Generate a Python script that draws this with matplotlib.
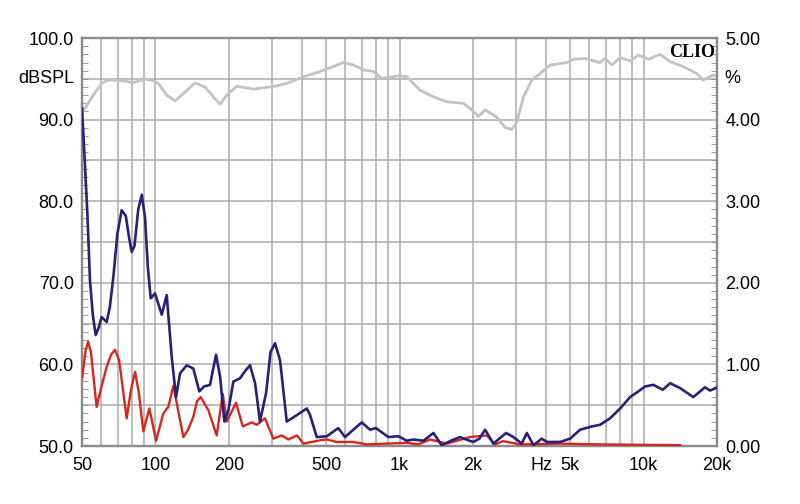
import numpy as np
import matplotlib
matplotlib.use('Agg')
import matplotlib.pyplot as plt
from matplotlib.ticker import FixedLocator, MultipleLocator, NullFormatter

plt.rcParams['font.family'] = ['Liberation Sans', 'DejaVu Sans']

# SPL response (left axis, dB)
spl_f = [50, 55.6, 60.2, 64.1, 71.6, 81.1, 90.6, 96.5, 102.7, 111.2, 120.3, 130.1, 145.3, 159.6,
         172.6, 184.0, 195.9, 215.3, 251.8, 304, 345, 404, 472, 536, 589, 647, 711, 781, 845, 929,
         1005, 1071, 1214, 1377, 1563, 1828, 1977, 2104, 2242, 2505, 2709, 2886, 3025, 3220, 3484,
         3769, 4141, 4849, 5162, 5760, 6635, 6955, 7413, 8015, 8807, 9524, 10473, 11695, 12852,
         14560, 16516, 17581, 19320, 20000]
spl_db = [90.8, 93.0, 94.45, 94.85, 94.8, 94.55, 94.95, 94.85, 94.45, 93.0, 92.3, 93.2, 94.5, 94.0,
          92.8, 91.9, 93.0, 94.1, 93.75, 94.05, 94.45, 95.25, 95.9, 96.5, 97.0, 96.7, 96.1, 95.9,
          95.05, 95.25, 95.4, 95.25, 93.6, 92.8, 92.2, 92.0, 91.2, 90.4, 91.2, 90.3, 89.05, 88.8,
          89.7, 92.8, 94.85, 95.65, 96.7, 97.0, 97.4, 97.5, 97.0, 97.5, 96.7, 97.6, 97.2, 97.9,
          97.4, 98.0, 97.1, 96.5, 95.65, 94.85, 95.5, 95.25]

# distortion k2 (right axis, %)
k2_f = [50, 51.3, 52.6, 53.9, 55.4, 56.9, 58.5, 60.2, 63.1, 65.0, 67.2, 69.8, 72.7, 75.6, 78.0, 79.9,
        82.0, 85.0, 87.9, 90.6, 93.0, 95.6, 99.6, 106.1, 111.2, 116.6,
        121.4, 126.1, 134.3, 142.9, 151.2, 158.1, 167.3, 172.5, 177.1, 184.0, 191.6, 199, 208.5, 222,
        233, 244, 256, 268, 284, 296, 309, 324, 345, 380, 417, 430, 458, 504, 561, 598, 700, 757, 801,
        900, 989, 1071, 1139, 1253, 1377, 1489, 1637, 1770, 1914, 2008, 2124, 2242, 2424, 2734, 2929,
        3170, 3325, 3541, 3826, 4018, 4548, 5000, 5494, 6136, 6635, 7290, 8015, 8807, 9524, 10140,
        10970, 11990, 12852, 14120, 15990, 17850, 18730, 20000]
k2_pct = [4.14, 3.5, 2.85, 2.03, 1.6, 1.36, 1.45, 1.58, 1.52, 1.7, 2.07, 2.6, 2.89, 2.82, 2.55, 2.38,
          2.45, 2.9, 3.08, 2.8, 2.2, 1.81, 1.87, 1.61, 1.85, 1.09,
          0.60, 0.89, 0.99, 0.95, 0.67, 0.73, 0.75, 0.95, 1.12, 0.85, 0.30, 0.44, 0.79, 0.83,
          0.92, 0.99, 0.77, 0.30, 0.65, 1.15, 1.26, 1.05, 0.30, 0.38, 0.46, 0.38, 0.11, 0.12, 0.22,
          0.11, 0.29, 0.20, 0.22, 0.11, 0.12, 0.065, 0.08, 0.065, 0.16, 0.01, 0.07, 0.11, 0.07, 0.05,
          0.09, 0.20, 0.03, 0.16, 0.11, 0.03, 0.16, 0.01, 0.09, 0.05, 0.05, 0.09, 0.20, 0.24, 0.26,
          0.34, 0.46, 0.60, 0.67, 0.73, 0.75, 0.69, 0.77, 0.71, 0.60, 0.72, 0.68, 0.72]

# distortion k3 (right axis, %)
k3_f = [50, 51.8, 53.0, 54.4, 57.4, 60.0, 63.1, 65.8, 68.3, 71.0, 76.2, 79.5, 82.5, 85.5, 89.2, 94.4,
        100.6, 107.7, 112.9, 118.4, 130.1, 136, 142.9, 148, 153.3, 164.7, 178.2, 188.6, 195.9, 213.8,
        228, 248, 260, 281, 304, 329, 350, 380, 404, 472, 504, 553, 647, 734, 887, 1071, 1194, 1334,
        1563, 1945, 2279, 2465, 2655, 3119, 4548, 6635, 9680, 14120]
k3_pct = [0.83, 1.18, 1.28, 1.15, 0.48, 0.72, 0.97, 1.12, 1.18, 1.05, 0.34, 0.7, 0.91, 0.65, 0.18,
          0.46, 0.065, 0.40, 0.48, 0.74, 0.11, 0.2, 0.36, 0.55, 0.60, 0.44, 0.13, 0.64, 0.30, 0.53,
          0.24, 0.29, 0.26, 0.34, 0.09, 0.13, 0.08, 0.13, 0.03, 0.07, 0.08, 0.05, 0.05, 0.02, 0.03,
          0.04, 0.02, 0.08, 0.03, 0.11, 0.13, 0.02, 0.06, 0.02, 0.03, 0.02, 0.015, 0.01]

xtick_pos = [50, 100, 200, 500, 1000, 2000, 3800, 5000, 10000, 20000]
xtick_lab = ['50', '100', '200', '500', '1k', '2k', 'Hz', '5k', '10k', '20k']

fig = plt.figure(figsize=(8, 5.04), dpi=100)
ax = fig.add_axes([0.1025, 0.115, 0.7938, 0.8095])
ax2 = ax.twinx()

grid_x = [f for dec in (10, 100, 1000, 10000) for f in np.arange(1, 10) * dec if 50 < f < 20000]
for f in grid_x:
    ax.axvline(f, color='#ababab', lw=1.1, zorder=0)
for v in np.arange(55, 100, 5):
    ax.axhline(v, color='#ababab', lw=1.1, zorder=0)

ax.plot(spl_f, spl_db, color='#c3c3c3', lw=2, zorder=2)
ax2.plot(k3_f, k3_pct, color='#d8261c', lw=1.7, zorder=3)
ax2.plot(k2_f, k2_pct, color='#29207a', lw=1.9, zorder=4)

ax.set_xscale('log')
ax.set_xlim(50, 20000)
ax.set_ylim(50, 100)
ax2.set_ylim(0, 5)

ax.xaxis.set_major_locator(FixedLocator(xtick_pos))
ax.set_xticklabels(xtick_lab)
ax.xaxis.set_minor_formatter(NullFormatter())
ax.tick_params(axis='x', which='both', length=0, labelsize=13, pad=8)

ax.set_yticks(np.arange(50, 101, 10))
ax.set_yticklabels(['%.1f' % v for v in np.arange(50, 101, 10)])
ax.yaxis.set_minor_locator(MultipleLocator(1))
ax.tick_params(axis='y', which='major', length=0, labelsize=13, pad=6)
ax.tick_params(axis='y', which='minor', direction='in', length=4, color='#8c8c8c')

ax2.set_yticks(np.arange(0, 5.01, 1))
ax2.set_yticklabels(['%.2f' % v for v in np.arange(0, 5.01, 1)])
ax2.yaxis.set_minor_locator(MultipleLocator(0.1))
ax2.tick_params(axis='y', which='major', length=0, labelsize=13, pad=6)
ax2.tick_params(axis='y', which='minor', direction='in', length=4, color='#8c8c8c')

for a in (ax, ax2):
    for s in a.spines.values():
        s.set_color('#8c8c8c')
        s.set_linewidth(1.6)

ax.text(-0.012, 0.9, 'dBSPL', transform=ax.transAxes, ha='right', va='center', fontsize=13)
ax2.text(1.012, 0.9, '%', transform=ax2.transAxes, ha='left', va='center', fontsize=13)
ax2.text(0.997, 0.985, 'CLIO', transform=ax2.transAxes, ha='right', va='top', fontsize=13,
         fontweight='bold', family=['Liberation Serif', 'DejaVu Serif'])

plt.savefig('out.png', dpi=100)
